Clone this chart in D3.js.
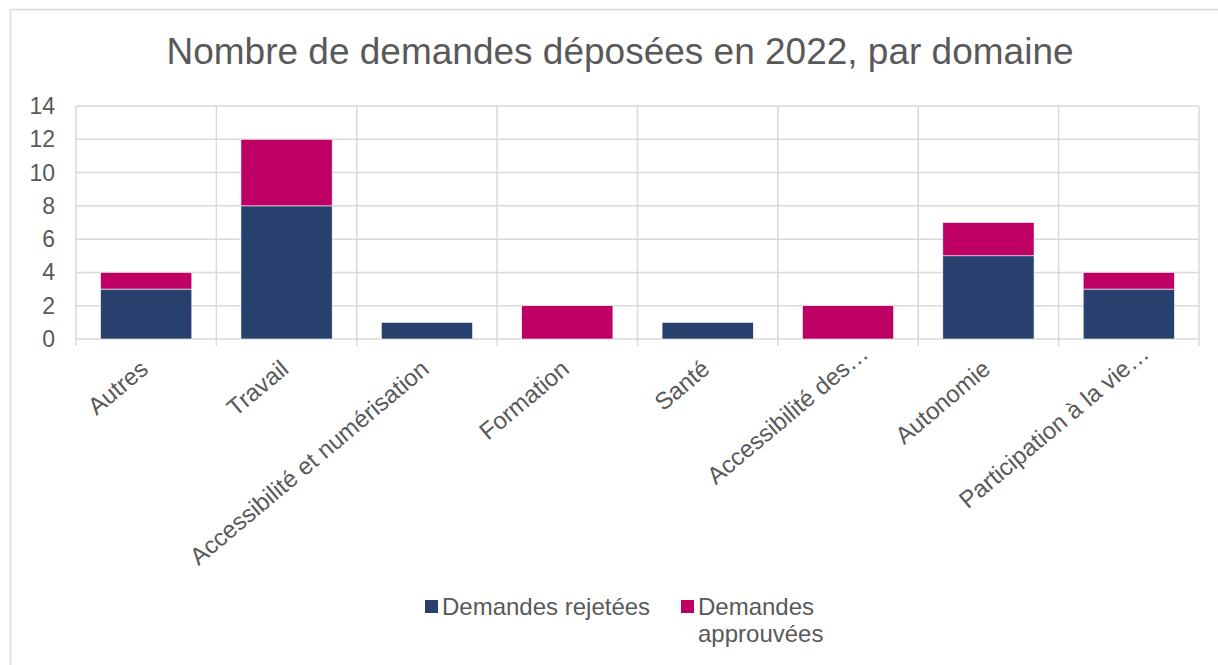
<!DOCTYPE html>
<html>
<head>
<meta charset="utf-8">
<script src="https://cdn.jsdelivr.net/npm/d3@7"></script>
<style>
  body { margin: 0; background: #fff; }
  text { font-family: "Liberation Sans", Arial, sans-serif; fill: #595959; }
</style>
</head>
<body>
<script>
// data
var domaines = ["Autres", "Travail", "Accessibilité et numérisation", "Formation", "Santé", "Accessibilité des…", "Autonomie", "Participation à la vie…"];
var rejetees = [3, 8, 1, 0, 1, 0, 5, 3];
var approuvees = [1, 4, 0, 2, 0, 2, 2, 1];
var seriesNames = ["Demandes rejetées", "Demandes approuvées"];
var yTicks = [0, 2, 4, 6, 8, 10, 12, 14];

var width = 1218, height = 665;
var margin = {top: 106, right: 19, bottom: 326, left: 76};
var w = width - margin.left - margin.right;
var h = height - margin.top - margin.bottom;

var svg = d3.select("body").append("svg")
    .attr("width", width)
    .attr("height", height);

// outer frame
svg.append("rect")
    .attr("x", 10.5).attr("y", 9.5)
    .attr("width", 1240).attr("height", 700)
    .attr("fill", "none").attr("stroke", "#d9d9d9").attr("stroke-width", 1.5);

svg.append("text")
    .attr("x", 620).attr("y", 64)
    .attr("text-anchor", "middle")
    .style("font-size", "37px")
    .text("Nombre de demandes déposées en 2022, par domaine");

var rows = domaines.map(function(d, i) {
    return {name: d, r: rejetees[i], a: approuvees[i]};
});

var stack = d3.stack().keys(["r", "a"]);
var layers = stack(rows);

var x = d3.scaleBand().domain(domaines).range([0, w]).paddingInner(0).paddingOuter(0);
var y = d3.scaleLinear().domain([0, 14]).range([h, 0]);
var color = ["#28406E", "#BE0064"];

var g = svg.append("g").attr("transform", "translate(" + margin.left + "," + margin.top + ")");

// horizontal grid
g.selectAll(".hgrid").data(yTicks).enter().append("line")
    .attr("x1", 0).attr("x2", w)
    .attr("y1", function(d) { return y(d); })
    .attr("y2", function(d) { return y(d); })
    .attr("stroke", "#d9d9d9").attr("stroke-width", 1.5);

// vertical grid / category ticks
var vlines = d3.range(domaines.length + 1);
g.selectAll(".vgrid").data(vlines).enter().append("line")
    .attr("x1", function(i) { return i * x.step(); })
    .attr("x2", function(i) { return i * x.step(); })
    .attr("y1", 0).attr("y2", h + 7)
    .attr("stroke", "#d9d9d9").attr("stroke-width", 1.5);

// y labels
g.selectAll(".ylab").data(yTicks).enter().append("text")
    .attr("x", -21)
    .attr("y", function(d) { return y(d); })
    .attr("dy", "0.35em")
    .attr("text-anchor", "end")
    .style("font-size", "23px")
    .text(function(d) { return d; });

// bars
var bw = x.bandwidth() * 0.65;
g.selectAll(".layer").data(layers).enter().append("g")
    .attr("fill", function(d, i) { return color[i]; })
  .selectAll("rect").data(function(d) { return d.filter(function(s) { return s[1] > s[0]; }); })
  .enter().append("rect")
    .attr("x", function(d) { return x(d.data.name) + (x.bandwidth() - bw) / 2; })
    .attr("width", bw)
    .attr("y", function(d) { return y(d[1]); })
    .attr("height", function(d) { return y(d[0]) - y(d[1]); })
    .attr("stroke", "#ffffff").attr("stroke-width", 0.6);

// category labels (truncated ones sit a bit further along the slope)
g.selectAll(".xlab").data(domaines).enter().append("text")
    .attr("transform", function(d) {
        return "translate(" + (x(d) + x.bandwidth() / 2 + 3.5) + "," + (h + 32.5) + ") rotate(-40)";
    })
    .attr("x", function(d) { return d.slice(-1) === "…" ? 24 : 0; })
    .attr("text-anchor", "end")
    .style("font-size", "24px")
    .text(function(d) { return d; });

// legend
var leg = svg.append("g");
leg.append("rect").attr("x", 425).attr("y", 600).attr("width", 13).attr("height", 13).attr("fill", color[0]);
leg.append("text").attr("x", 442).attr("y", 615).style("font-size", "24px").text(seriesNames[0]);
leg.append("rect").attr("x", 681).attr("y", 600).attr("width", 13).attr("height", 13).attr("fill", color[1]);
leg.append("text").attr("x", 698).attr("y", 615).style("font-size", "24px").text("Demandes");
leg.append("text").attr("x", 698).attr("y", 642).style("font-size", "24px").text("approuvées");
</script>
</body>
</html>
